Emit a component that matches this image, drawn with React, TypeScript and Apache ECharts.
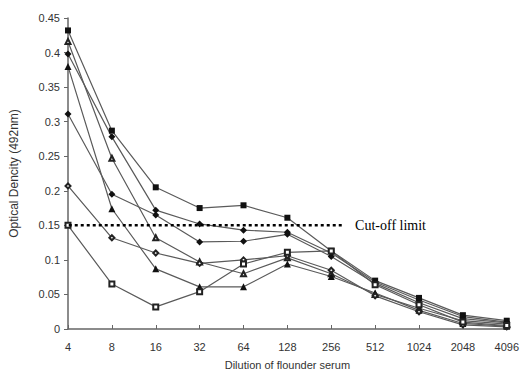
import React, { useEffect, useRef } from "react";
import * as echarts from "echarts";

const categories = ["4", "8", "16", "32", "64", "128", "256", "512", "1024", "2048", "4096"];
const seriesA = [0.432, 0.287, 0.205, 0.175, 0.179, 0.161, 0.113, 0.070, 0.045, 0.020, 0.012];
const seriesB = [0.398, 0.278, 0.172, 0.152, 0.143, 0.140, 0.110, 0.068, 0.042, 0.018, 0.010];
const seriesC = [0.416, 0.247, 0.132, 0.097, 0.080, 0.103, 0.080, 0.050, 0.030, 0.012, 0.007];
const seriesD = [0.311, 0.195, 0.165, 0.126, 0.127, 0.137, 0.105, 0.066, 0.038, 0.015, 0.009];
const seriesE = [0.380, 0.174, 0.087, 0.061, 0.061, 0.094, 0.076, 0.052, 0.027, 0.008, 0.004];
const seriesF = [0.207, 0.132, 0.110, 0.095, 0.100, 0.106, 0.085, 0.048, 0.025, 0.006, 0.003];
const seriesG = [0.150, 0.065, 0.032, 0.054, 0.094, 0.111, 0.113, 0.064, 0.035, 0.010, 0.005];
const cutoffValue = 0.15;
const cutoffSpan = [-0.12, 6.27];
const cutoffLabel = "Cut-off limit";

export default function App() {
  const ref = useRef<HTMLDivElement>(null);
  useEffect(() => {
    document.body.style.margin = "0";
    const chart = echarts.init(ref.current!, null, { renderer: "svg" });
    const mk = (data: number[], symbol: string, size: number, empty: boolean) => ({
      type: "line",
      data,
      symbol,
      symbolSize: size,
      showAllSymbol: true,
      lineStyle: { color: "#5a5a5a", width: 1.2 },
      itemStyle: empty
        ? { color: "#222", borderColor: "#222", borderWidth: 1 }
        : { color: "#111", borderColor: "#111", borderWidth: 0 },
      z: 3,
    });
    chart.setOption({
      animation: false,
      backgroundColor: "#fff",
      grid: { left: 67, right: 11, top: 18, bottom: 56 },
      xAxis: [
        {
          type: "category",
          data: categories,
          boundaryGap: false,
          axisLine: { lineStyle: { color: "#666", width: 1.5 } },
          axisTick: { inside: true, length: 4, lineStyle: { color: "#666" } },
          axisLabel: { color: "#333", fontFamily: "Liberation Sans", fontSize: 11, margin: 12 },
          name: "Dilution of flounder serum",
          nameLocation: "middle",
          nameGap: 30,
          nameTextStyle: { color: "#333", fontFamily: "Liberation Sans", fontSize: 11 },
          splitLine: { show: false },
        },
        {
          type: "value",
          min: 0,
          max: 10,
          show: false,
          position: "bottom",
        },
      ],
      yAxis: {
        type: "value",
        min: 0,
        max: 0.45,
        interval: 0.05,
        axisLine: { show: true, lineStyle: { color: "#666", width: 1.5 } },
        axisTick: { show: true, length: 4, lineStyle: { color: "#666" } },
        axisLabel: {
          color: "#333",
          fontFamily: "Liberation Sans",
          fontSize: 11,
          margin: 8,
          formatter: (v: number) => String(Math.round(v * 100) / 100),
        },
        splitLine: { show: false },
        name: "Optical Dencity (492nm)",
        nameLocation: "middle",
        nameGap: 48,
        nameTextStyle: { color: "#333", fontFamily: "Liberation Sans", fontSize: 12 },
      },
      series: [
        mk(seriesA, "rect", 6, false),
        mk(seriesB, "diamond", 7, false),
        mk(seriesC, "emptyTriangle", 5, true),
        mk(seriesD, "diamond", 7, false),
        mk(seriesE, "triangle", 7, false),
        mk(seriesF, "emptyDiamond", 5, true),
        mk(seriesG, "emptyRect", 5, true),
        {
          type: "line",
          xAxisIndex: 1,
          data: cutoffSpan.map((x) => [x, cutoffValue]),
          symbol: "none",
          clip: false,
          lineStyle: { color: "#000", width: 2.5, type: [3, 3] },
          endLabel: {
            show: true,
            formatter: cutoffLabel,
            color: "#000",
            fontFamily: "Liberation Serif",
            fontSize: 14,
            distance: 12,
          },
          z: 4,
        },
      ],
    });
    return () => chart.dispose();
  }, []);
  return <div ref={ref} style={{ width: 522, height: 385 }} />;
}
